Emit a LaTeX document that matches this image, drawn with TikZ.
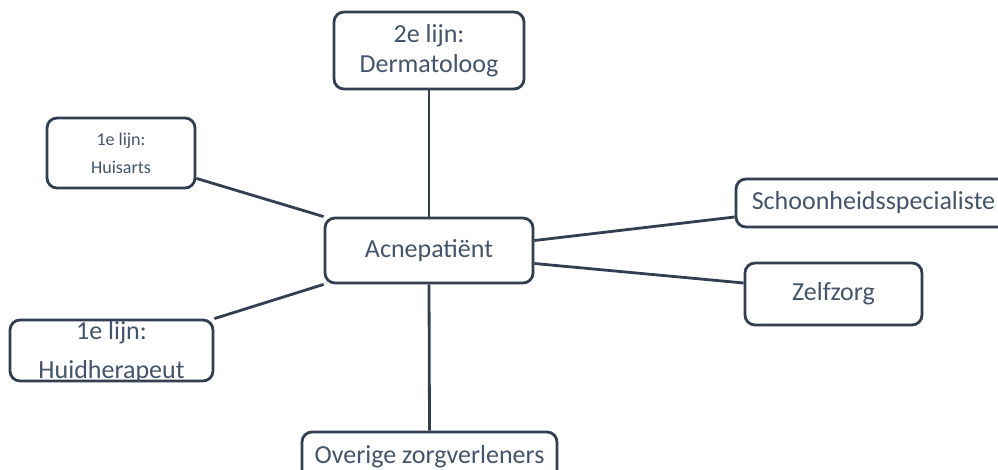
\documentclass[tikz,border=0pt]{standalone}
\usepackage{fontspec}
\setmainfont{Carlito}
\definecolor{txt}{HTML}{44546A}
\definecolor{bord}{HTML}{333F50}
\tikzset{
  box/.style={draw=bord, line width=2.8pt, rounded corners=10pt, fill=white,
    text=txt, align=center, inner sep=0pt, font=\fontsize{26}{30}\selectfont},
  link/.style={draw=bord, line width=2.8pt}
}
\begin{document}
\begin{tikzpicture}[x=1pt,y=-1pt]
\useasboundingbox (0,0) rectangle (998,470);
\clip (0,0) rectangle (998,470);
\node[box, minimum width=190pt, minimum height=77pt] (D) at (429,50.5) {2e lijn:\\Dermatoloog};
\node[box, minimum width=148pt, minimum height=70pt, font=\fontsize{18}{28}\selectfont] (H) at (121,153) {1e lijn:\\Huisarts};
\node[box, minimum width=208pt, minimum height=65pt] (A) at (429,250.5) {Acnepatiënt};
\node[box, minimum width=203pt, minimum height=61pt, text height=0pt, text depth=0pt] (HT) at (111.5,350.5) {\raisebox{-28pt}{\shortstack{1e lijn:\\[13pt]Huidherapeut}}};
\node[box, minimum width=275pt, minimum height=48pt] (S) at (873.5,203) {Schoonheidsspecialiste};
\node[box, minimum width=177pt, minimum height=62pt] (Z) at (833.5,294) {Zelfzorg};
\node[box, minimum width=255pt, minimum height=50pt] (O) at (429.5,457) {\raisebox{5pt}{Overige zorgverleners}};
\draw[link] (D.south) -- (A.north);
\draw[link] ([yshift=11pt]H.south east) -- (A.north west);
\draw[link] (HT.north east) -- (A.south west);
\draw[link] ([yshift=10pt]A.east) -- ([yshift=-14pt]S.west);
\draw[link] ([yshift=-13pt]A.east) -- ([yshift=11pt]Z.west);
\draw[link] (A.south) -- (O.north);
\end{tikzpicture}
\end{document}
